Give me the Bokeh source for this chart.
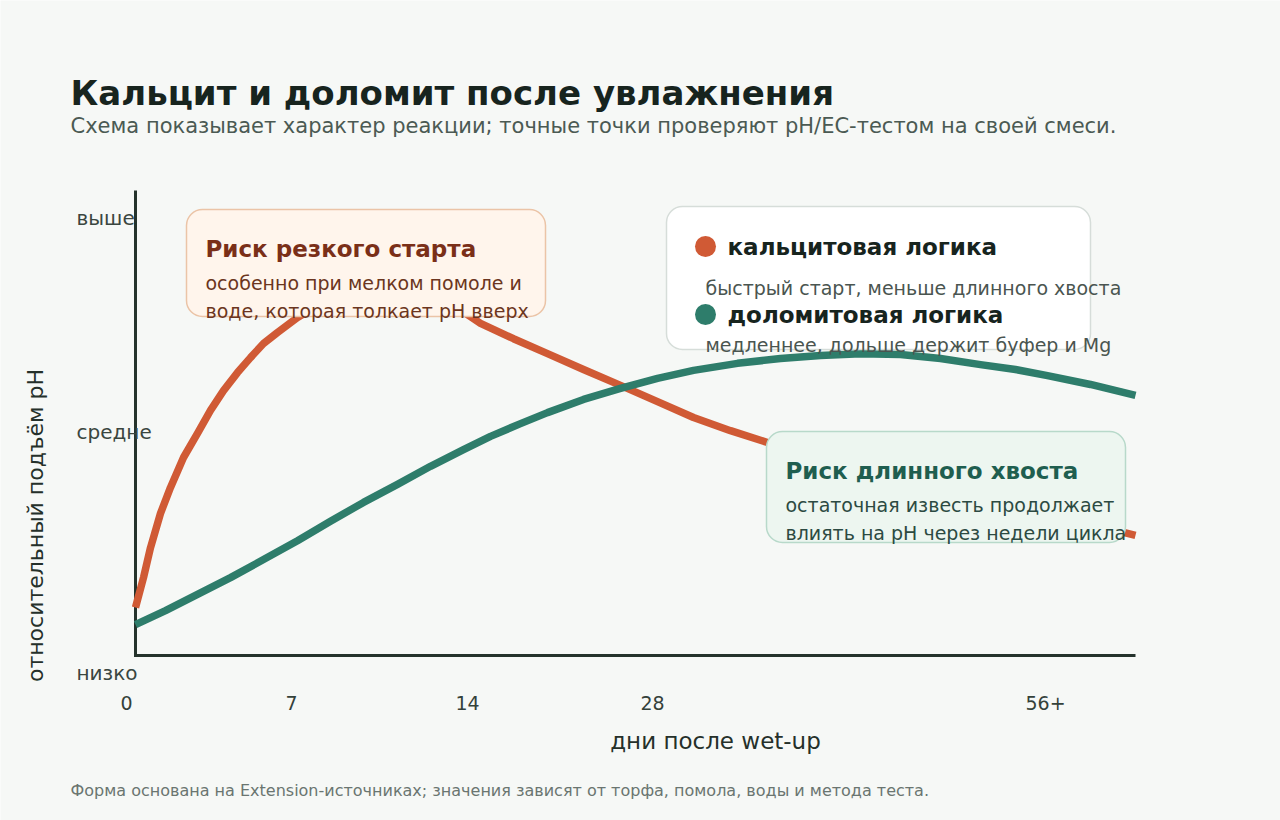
from bokeh.plotting import figure
from bokeh.models import Range1d
from bokeh.core.properties import value
from bokeh.embed import file_html
from bokeh.resources import INLINE
import math

# ---------------- data ----------------
# x: position along the (non-linear) day axis, 0..100 % of axis length
# y: relative pH rise, 0 = низко, 0.5 = средне, 1 = выше
calcite_x = [0.0, 0.8, 1.5, 2.5, 3.5, 4.8, 6.2, 7.5, 8.8, 10.2, 11.5, 12.8, 14.2, 16.2, 18.5,
             21.0, 23.5, 26.0, 28.5, 31.0, 33.5, 34.5, 37.8, 41.2, 44.8, 48.5, 52.2, 55.8, 59.5,
             63.2, 68.5, 74.5, 80.5, 86.5, 92.5, 96.5, 100.0]
calcite_y = [0.109, 0.177, 0.245, 0.323, 0.382, 0.450, 0.505, 0.557, 0.602, 0.643, 0.677, 0.709,
             0.734, 0.768, 0.800, 0.825, 0.839, 0.841, 0.832, 0.807, 0.770, 0.755, 0.720, 0.686,
             0.650, 0.614, 0.577, 0.541, 0.511, 0.484, 0.452, 0.418, 0.384, 0.350, 0.316, 0.293,
             0.273]

dolomite_x = [0.0, 3.0, 6.2, 9.5, 12.8, 16.2, 19.5, 22.8, 26.2, 29.5, 32.8, 35.5, 38.5, 41.2,
              44.8, 48.5, 52.2, 55.8, 60.2, 64.5, 68.5, 72.5, 76.5, 80.5, 84.5, 88.0, 91.2, 95.5,
              100.0]
dolomite_y = [0.070, 0.102, 0.139, 0.177, 0.218, 0.261, 0.305, 0.348, 0.389, 0.430, 0.468, 0.498,
              0.527, 0.552, 0.582, 0.607, 0.630, 0.648, 0.664, 0.675, 0.682, 0.686, 0.684, 0.675,
              0.661, 0.650, 0.636, 0.616, 0.591]

x_tick_labels = ["0", "7", "14", "28", "56+"]
x_tick_pos = [-0.9, 15.6, 33.2, 51.7, 91.0]
y_tick_labels = ["выше", "средне", "низко"]
y_tick_pos = [0.995, 0.507, -0.039]

title = "Кальцит и доломит после увлажнения"
subtitle = "Схема показывает характер реакции; точные точки проверяют pH/EC-тестом на своей смеси."
footer = "Форма основана на Extension-источниках; значения зависят от торфа, помола, воды и метода теста."
x_title = "дни после wet-up"
y_title = "относительный подъём pH"

# ---------------- layout helpers ----------------
W, H = 1280, 820
X0, XS = 135, 10.0      # pixel of x=0, pixels per unit
Y0, YS = 655, 440.0     # pixel of y=0, pixels per unit


def X(px):
    return (px - X0) / XS


def Y(py):
    return (Y0 - py) / YS


FONT = value("DejaVu Sans")
BG = "#f6f8f6"
ORANGE = "#d05a35"
GREEN = "#2e7d6b"

p = figure(width=W, height=H, output_backend="svg", toolbar_location=None,
           x_range=Range1d(X(0), X(W)), y_range=Range1d(Y(H), Y(0)),
           min_border=0, x_axis_location=None, y_axis_location=None,
           background_fill_color=BG, border_fill_color=BG, outline_line_color=None)
p.grid.visible = False

# axes lines
p.segment(x0=[X(135)], y0=[Y(190)], x1=[X(135)], y1=[Y(656.5)], line_color="#25332c", line_width=3)
p.segment(x0=[X(133.5)], y0=[Y(655)], x1=[X(1135)], y1=[Y(655)], line_color="#25332c", line_width=3)

# curves
p.line(calcite_x, calcite_y, line_color=ORANGE, line_width=7.5, line_join="round")
p.line(dolomite_x, dolomite_y, line_color=GREEN, line_width=7.5, line_join="round")

# boxes
p.quad(left=[X(186)], right=[X(545)], top=[Y(209)], bottom=[Y(316)], fill_color="#fff5ec",
       line_color="#ebc4a7", line_width=1.5, border_radius=16)
p.quad(left=[X(666)], right=[X(1090)], top=[Y(206)], bottom=[Y(349)], fill_color="#ffffff",
       line_color="#d6ddd9", line_width=1.5, border_radius=16)
p.quad(left=[X(766)], right=[X(1125)], top=[Y(431)], bottom=[Y(542)], fill_color="#edf6f0",
       line_color="#b8d9ca", line_width=1.5, border_radius=16)


def txt(px, py, s, size, color, bold=False, align="left", angle=0.0):
    p.text(x=[X(px)], y=[Y(py)], text=[s], text_font=FONT, text_font_size=f"{size}px",
           text_font_style="bold" if bold else "normal", text_color=color,
           text_align=align, text_baseline="middle", angle=angle)


# title block
txt(70, 92, title, 34, "#17241e", bold=True)
txt(70, 125, subtitle, 21, "#4b5a53")
txt(70, 790, footer, 16, "#6a7570")

# tick labels
for lab, pos in zip(x_tick_labels, x_tick_pos):
    p.text(x=[pos], y=[Y(702)], text=[lab], text_font=FONT, text_font_size="19px",
           text_color="#34413a", text_align="center", text_baseline="middle")
for lab, pos in zip(y_tick_labels, y_tick_pos):
    p.text(x=[X(76)], y=[pos], text=[lab], text_font=FONT, text_font_size="20px",
           text_color="#3a4640", text_align="left", text_baseline="middle")

txt(715, 740, x_title, 23, "#25302a", align="center")
txt(35, 525, y_title, 22, "#25302a", align="center", angle=math.pi / 2)

# orange annotation
txt(205, 248, "Риск резкого старта", 23, "#7a2f18", bold=True)
txt(205, 282, "особенно при мелком помоле и", 19, "#6b3520")
txt(205, 310, "воде, которая толкает pH вверх", 19, "#6b3520")

# legend
p.scatter(x=[X(705), X(705)], y=[Y(246), Y(314)], size=21, fill_color=[ORANGE, GREEN],
          line_color=None, marker="circle")
txt(727, 246, "кальцитовая логика", 23, "#17241e", bold=True)
txt(705, 287, "быстрый старт, меньше длинного хвоста", 19, "#4a5550")
txt(727, 314, "доломитовая логика", 23, "#17241e", bold=True)
txt(705, 344, "медленнее, дольше держит буфер и Mg", 19, "#4a5550")

# green annotation
txt(785, 470, "Риск длинного хвоста", 23, "#1f5e4f", bold=True)
txt(785, 504, "остаточная известь продолжает", 19, "#2c4a42")
txt(785, 532, "влиять на pH через недели цикла", 19, "#2c4a42")

open("out.html", "w").write(file_html(p, INLINE))
